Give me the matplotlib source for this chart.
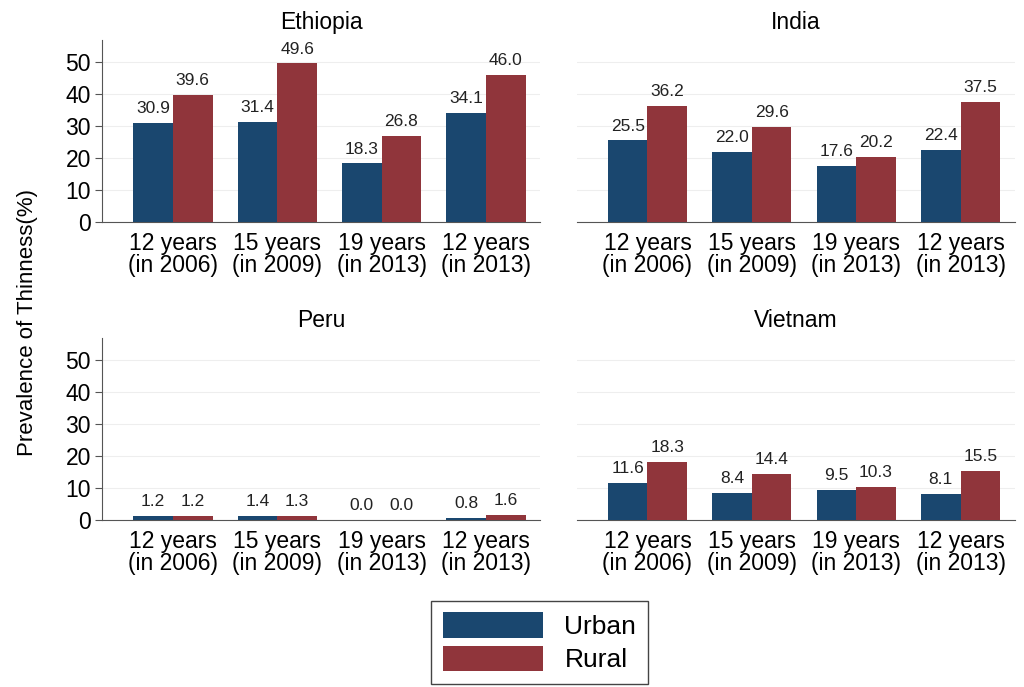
import numpy as np
import matplotlib
matplotlib.use("Agg")
import matplotlib.pyplot as plt
from matplotlib.patches import Patch

plt.rcParams['font.family'] = ['Liberation Sans', 'DejaVu Sans']

# Data
countries = ["Ethiopia", "India", "Peru", "Vietnam"]
groups = ["12 years\n(in 2006)", "15 years\n(in 2009)", "19 years\n(in 2013)", "12 years\n(in 2013)"]
urban = {
    "Ethiopia": [30.9, 31.4, 18.3, 34.1],
    "India": [25.5, 22.0, 17.6, 22.4],
    "Peru": [1.2, 1.4, 0.0, 0.8],
    "Vietnam": [11.6, 8.4, 9.5, 8.1],
}
rural = {
    "Ethiopia": [39.6, 49.6, 26.8, 46.0],
    "India": [36.2, 29.6, 20.2, 37.5],
    "Peru": [1.2, 1.3, 0.0, 1.6],
    "Vietnam": [18.3, 14.4, 10.3, 15.5],
}

blue = "#1a476f"
red = "#90353b"

fig = plt.figure(figsize=(10.24, 6.87), dpi=100)
positions = [
    (0.0996, 0.677, 0.428, 0.265),
    (0.563, 0.677, 0.428, 0.265),
    (0.0996, 0.243, 0.428, 0.265),
    (0.563, 0.243, 0.428, 0.265),
]

x = np.arange(len(groups))
w = 0.38

for i, (c, pos) in enumerate(zip(countries, positions)):
    ax = fig.add_axes(pos)
    b1 = ax.bar(x - w / 2, urban[c], w, color=blue, zorder=3)
    b2 = ax.bar(x + w / 2, rural[c], w, color=red, zorder=3)
    for bars in (b1, b2):
        ax.bar_label(bars, fmt="%.1f", padding=5, fontsize=12.5, color="#222222")
    ax.set_xlim(-0.68, 3.52)
    ax.set_ylim(0, 57)
    ax.set_yticks([0, 10, 20, 30, 40, 50])
    ax.set_xticks(x)
    ax.set_xticklabels(groups, fontsize=16.5, linespacing=0.98)
    ax.tick_params(axis="x", length=0, pad=7)
    ax.grid(axis="y", color="#eeeeee", linewidth=0.8, zorder=0)
    ax.set_title(c, fontsize=16.5, pad=8)
    for s in ["top", "right"]:
        ax.spines[s].set_visible(False)
    ax.spines["bottom"].set_color("#555555")
    if i % 2 == 0:
        ax.spines["left"].set_color("#555555")
        ax.tick_params(axis="y", labelsize=16.5, length=5, color="#555555", pad=3)
    else:
        ax.spines["left"].set_visible(False)
        ax.tick_params(axis="y", labelleft=False, length=0)

fig.text(0.027, 0.53, "Prevalence of Thinness(%)", rotation=90, ha="center", va="center", fontsize=16)

handles = [Patch(facecolor=blue, label="Urban"), Patch(facecolor=red, label="Rural")]
leg = fig.legend(handles=handles, loc="center", bbox_to_anchor=(0.527, 0.065),
                 fontsize=19, handlelength=3.8, handleheight=1.1, fancybox=False,
                 edgecolor="#444444", framealpha=1, borderpad=0.45, labelspacing=0.25,
                 handletextpad=0.8)
leg.get_frame().set_linewidth(1.0)

fig.savefig("out.png", dpi=100)
